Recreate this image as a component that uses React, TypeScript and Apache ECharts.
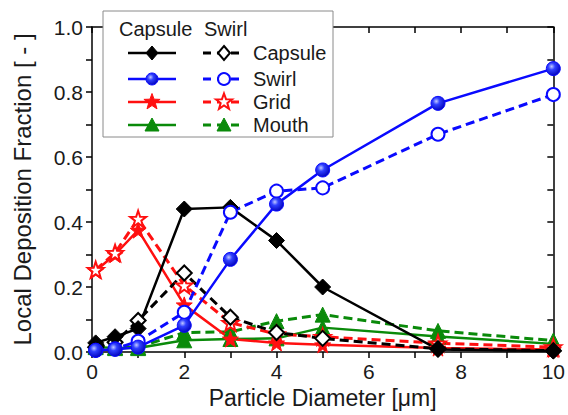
import React, { useEffect, useRef } from "react";
import * as echarts from "echarts";

// ---- data ----
const sizes = [0.08, 0.5, 1, 2, 3, 4, 5, 7.5, 10];
const capsuleCapsule = [0.028, 0.047, 0.072, 0.44, 0.445, 0.343, 0.2, 0.008, 0.003];
const capsuleSwirl = [0.015, 0.03, 0.097, 0.243, 0.107, 0.06, 0.042, 0.01, 0.004];
const swirlCapsule = [0.005, 0.008, 0.015, 0.082, 0.285, 0.455, 0.56, 0.765, 0.872];
const swirlSwirl = [0.005, 0.01, 0.033, 0.122, 0.43, 0.495, 0.505, 0.67, 0.792];
const gridCapsule = [0.25, 0.3, 0.375, 0.145, 0.04, 0.028, 0.022, 0.012, 0.008];
const gridSwirl = [0.253, 0.305, 0.41, 0.205, 0.09, 0.055, 0.047, 0.027, 0.015];
const mouthCapsule = [0.015, 0.012, 0.012, 0.036, 0.04, 0.042, 0.075, 0.048, 0.025];
const mouthSwirl = [0.018, 0.015, 0.015, 0.06, 0.062, 0.095, 0.115, 0.065, 0.035];

const legendHeaders = ["Capsule", "Swirl"];
const legendLabels = ["Capsule", "Swirl", "Grid", "Mouth"];
const xTitle = "Particle Diameter [\u03bcm]";
const yTitle = "Local Deposition Fraction [ - ]";

const FONT = "'Liberation Sans', Arial, Helvetica, sans-serif";
const BLACK = "#000000";
const BLUE = "#0a0aff";
const RED = "#ff1010";
const GREEN = "#0a8a0a";
const STAR =
  "path://M0,-10L2.35,-3.24L9.51,-3.09L3.8,1.24L5.88,8.09L0,4L-5.88,8.09L-3.8,1.24L-9.51,-3.09L-2.35,-3.24Z";

const blueBall = {
  type: "radial",
  x: 0.38,
  y: 0.35,
  r: 0.7,
  colorStops: [
    { offset: 0, color: "#c0c8ff" },
    { offset: 0.35, color: "#3040ff" },
    { offset: 1, color: "#0000b8" },
  ],
};

function mk(
  name: string,
  vals: number[],
  color: string,
  symbol: string,
  size: number,
  filled: boolean,
  dashed: boolean,
  fill?: any
) {
  return {
    name,
    type: "line",
    data: sizes.map((x, i) => [x, vals[i]]),
    symbol,
    symbolSize: size,
    showSymbol: true,
    lineStyle: { color, width: dashed ? 3 : 2.5, type: dashed ? [9, 5] : "solid" },
    itemStyle: filled
      ? { color: fill || color, borderColor: color, borderWidth: 1 }
      : { color: "#ffffff", borderColor: color, borderWidth: 2 },
    emphasis: { disabled: true },
    z: 3,
  };
}

function starPoints(cx: number, cy: number, R: number, r: number) {
  const pts: number[][] = [];
  for (let i = 0; i < 10; i++) {
    const a = -Math.PI / 2 + (i * Math.PI) / 5;
    const rad = i % 2 === 0 ? R : r;
    pts.push([cx + rad * Math.cos(a), cy + rad * Math.sin(a)]);
  }
  return pts;
}

function marker(kind: string, cx: number, cy: number, color: string, filled: boolean, fill?: any) {
  const style = filled
    ? { fill: fill || color, stroke: color, lineWidth: 1 }
    : { fill: "#ffffff", stroke: color, lineWidth: 2 };
  if (kind === "diamond")
    return { type: "polygon", shape: { points: [[cx, cy - 7], [cx + 6, cy], [cx, cy + 7], [cx - 6, cy]] }, style, z: 102 };
  if (kind === "circle") return { type: "circle", shape: { cx, cy, r: 6 }, style, z: 102 };
  if (kind === "triangle")
    return { type: "polygon", shape: { points: [[cx, cy - 7], [cx + 7, cy + 6], [cx - 7, cy + 6]] }, style, z: 102 };
  return { type: "polygon", shape: { points: starPoints(cx, cy, 8.5, 3.5) }, style, z: 102 };
}

function buildLegend() {
  const els: any[] = [];
  els.push({
    type: "rect",
    shape: { x: 103, y: 11, width: 230, height: 126 },
    style: { fill: "#ffffff", stroke: "#8a8a8a", lineWidth: 1 },
    z: 100,
  });
  els.push({ type: "text", x: 119, y: 29, style: { text: legendHeaders[0], font: `20px ${FONT}`, fill: "#1a1a1a", verticalAlign: "middle" }, z: 101 });
  els.push({ type: "text", x: 204, y: 29, style: { text: legendHeaders[1], font: `20px ${FONT}`, fill: "#1a1a1a", verticalAlign: "middle" }, z: 101 });
  const rows = [
    { y: 53, color: BLACK, kind: "diamond", dashFilled: false },
    { y: 79, color: BLUE, kind: "circle", dashFilled: false },
    { y: 102, color: RED, kind: "star", dashFilled: false },
    { y: 125, color: GREEN, kind: "triangle", dashFilled: true },
  ];
  rows.forEach((r, i) => {
    els.push({ type: "line", shape: { x1: 128, y1: r.y, x2: 176, y2: r.y }, style: { stroke: r.color, lineWidth: 2.5 }, z: 101 });
    els.push(marker(r.kind, 152, r.y, r.color, true, r.kind === "circle" ? blueBall : undefined));
    els.push({ type: "line", shape: { x1: 203, y1: r.y, x2: 244, y2: r.y }, style: { stroke: r.color, lineWidth: 3, lineDash: [8, 6] }, z: 101 });
    els.push(marker(r.kind, 224, r.y, r.color, r.dashFilled));
    els.push({ type: "text", x: 253, y: r.y, style: { text: legendLabels[i], font: `20px ${FONT}`, fill: "#1a1a1a", verticalAlign: "middle" }, z: 101 });
  });
  return els;
}

export default function App() {
  const ref = useRef<HTMLDivElement>(null);
  useEffect(() => {
    if (!ref.current) return;
    const chart = echarts.init(ref.current, null, { renderer: "svg" });
    const axisLine = { show: true, onZero: false, lineStyle: { color: "#000", width: 1.5 } };
    chart.setOption({
      animation: false,
      backgroundColor: "#ffffff",
      textStyle: { fontFamily: FONT },
      grid: { left: 92, right: 13, top: 27, bottom: 63, containLabel: false },
      xAxis: [
        {
          type: "value",
          min: 0,
          max: 10,
          interval: 2,
          position: "bottom",
          axisLine,
          axisTick: { show: true, inside: false, length: 6, lineStyle: { color: "#000", width: 1.5 } },
          minorTick: { show: true, splitNumber: 2, length: 6, lineStyle: { color: "#000", width: 1.5 } },
          splitLine: { show: false },
          axisLabel: { fontSize: 21, color: "#1a1a1a", margin: 9, fontFamily: FONT },
          name: xTitle,
          nameLocation: "middle",
          nameGap: 34,
          nameTextStyle: { fontSize: 23, color: "#1a1a1a", fontFamily: FONT },
        },
        {
          type: "value",
          min: 0,
          max: 10,
          interval: 1,
          position: "top",
          axisLine,
          axisTick: { show: true, inside: true, length: 6, lineStyle: { color: "#000", width: 1.5 } },
          splitLine: { show: false },
          axisLabel: { show: false },
        },
      ],
      yAxis: [
        {
          type: "value",
          min: 0,
          max: 1,
          interval: 0.2,
          position: "left",
          axisLine,
          axisTick: { show: true, inside: false, length: 6, lineStyle: { color: "#000", width: 1.5 } },
          minorTick: { show: true, splitNumber: 2, length: 6, lineStyle: { color: "#000", width: 1.5 } },
          splitLine: { show: false },
          axisLabel: { fontSize: 21, color: "#1a1a1a", margin: 9, fontFamily: FONT, formatter: (v: number) => v.toFixed(1) },
          name: yTitle,
          nameLocation: "middle",
          nameGap: 58,
          nameTextStyle: { fontSize: 24, color: "#1a1a1a", fontFamily: FONT },
        },
        {
          type: "value",
          min: 0,
          max: 1,
          interval: 0.1,
          position: "right",
          axisLine,
          axisTick: { show: true, inside: true, length: 6, lineStyle: { color: "#000", width: 1.5 } },
          splitLine: { show: false },
          axisLabel: { show: false },
        },
      ],
      series: [
        mk("Mouth S", mouthSwirl, GREEN, "triangle", 15, true, true),
        mk("Mouth C", mouthCapsule, GREEN, "triangle", 15, true, false),
        mk("Grid C", gridCapsule, RED, STAR, 16, true, false),
        mk("Grid S", gridSwirl, RED, STAR, 16, false, true),
        mk("Capsule S", capsuleSwirl, BLACK, "diamond", 15, false, true),
        mk("Capsule C", capsuleCapsule, BLACK, "diamond", 16, true, false),
        mk("Swirl S", swirlSwirl, BLUE, "circle", 13, false, true),
        mk("Swirl C", swirlCapsule, BLUE, "circle", 14, true, false, blueBall),
      ],
      graphic: buildLegend(),
    });
    return () => chart.dispose();
  }, []);
  return <div ref={ref} style={{ width: 568, height: 415, position: "absolute", left: 0, top: 0 }} />;
}
